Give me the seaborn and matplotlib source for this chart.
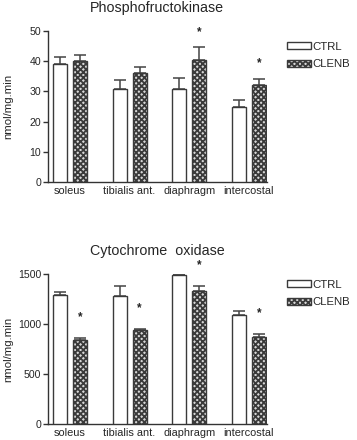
import matplotlib
matplotlib.use("Agg")
import matplotlib.pyplot as plt
import seaborn as sns
import pandas as pd
import numpy as np
from matplotlib.patches import Patch

muscles = ["soleus", "tibialis ant.", "diaphragm", "intercostal"]
groups = ["CTRL", "CLENB"]

pfk_ctrl = [39.0, 30.8, 30.8, 24.9]
pfk_ctrl_err = [41.5, 33.8, 34.3, 27.1]
pfk_clenb = [39.9, 36.0, 40.3, 32.1]
pfk_clenb_err = [41.9, 37.9, 44.7, 34.2]
pfk_sig = [False, False, True, True]

cox_ctrl = [1293, 1282, 1487, 1090]
cox_ctrl_err = [1317, 1380, 1493, 1132]
cox_clenb = [835, 938, 1328, 868]
cox_clenb_err = [858, 948, 1377, 898]
cox_sig = [True, True, True, True]

sns.set_theme(style="ticks")
plt.rcParams['font.family'] = ['Liberation Sans', 'DejaVu Sans']
plt.rcParams['hatch.linewidth'] = 1.3
plt.rcParams['hatch.color'] = '#2e2e2e'

fig = plt.figure(figsize=(3.57, 4.40), dpi=100)
ax1 = fig.add_axes([0.1345, 0.5864, 0.613, 0.3434])
ax2 = fig.add_axes([0.1345, 0.0364, 0.613, 0.3409])

EDGE = '#3a3a3a'
HFACE = '#d8d8d8'


def draw(ax, ctrl, ctrl_err, clenb, clenb_err, sig, ymax, yticks, star_off, title, leg_y):
    df = pd.DataFrame({
        "muscle": muscles * 2,
        "group": ["CTRL"] * 4 + ["CLENB"] * 4,
        "value": list(ctrl) + list(clenb),
    })
    sns.barplot(data=df, x="muscle", y="value", hue="group", order=muscles,
                hue_order=groups, palette=["white", HFACE], width=0.667,
                gap=0.3, errorbar=None, edgecolor=EDGE, linewidth=1.0,
                legend=False, ax=ax)
    bars = ax.patches[:8]
    tops = list(ctrl_err) + list(clenb_err)
    vals = list(ctrl) + list(clenb)
    for i, b in enumerate(bars):
        b.set_zorder(3)
        if i >= 4:
            b.set_hatch('xxxxxx')
        xc = b.get_x() + b.get_width() / 2
        ax.errorbar([xc], [vals[i]], yerr=[[0], [tops[i] - vals[i]]],
                    fmt='none', ecolor='#444444', elinewidth=1.1,
                    capsize=4.5, capthick=1.1, zorder=2, clip_on=False)
        if i >= 4 and sig[i - 4]:
            ax.text(xc, tops[i] + star_off, "*", ha='center', va='center',
                    fontsize=8.5, fontweight='bold', color='#222222', clip_on=False)
    ax.set_xlim(-0.367, 3.3)
    ax.set_ylim(0, ymax)
    ax.set_yticks(yticks)
    ax.set_xlabel("")
    ax.set_ylabel("nmol/mg.min", fontsize=8.2)
    ax.yaxis.set_label_coords(-0.158, 0.5)
    ax.set_title(title, fontsize=10.3, pad=13.5)
    sns.despine(ax=ax)
    for s in ["left", "bottom"]:
        ax.spines[s].set_linewidth(1.0)
        ax.spines[s].set_color('#333333')
    ax.tick_params(axis='y', length=3.5, width=1.0, labelsize=7.6, pad=1.5, color='#333333')
    ax.tick_params(axis='x', length=0, labelsize=7.9, pad=3)
    handles = [Patch(facecolor='white', edgecolor=EDGE, linewidth=1.0, label="CTRL"),
               Patch(facecolor=HFACE, edgecolor=EDGE, linewidth=1.0, hatch='xxxxxx', label="CLENB")]
    fig.legend(handles=handles, loc='upper left', bbox_to_anchor=(0.803, leg_y),
               bbox_transform=fig.transFigure,
               frameon=False, fontsize=8.2, handlelength=2.1, handleheight=0.55,
               handletextpad=0.15, labelspacing=0.7, borderaxespad=0, borderpad=0)


draw(ax1, pfk_ctrl, pfk_ctrl_err, pfk_clenb, pfk_clenb_err, pfk_sig, 50,
     [0, 10, 20, 30, 40, 50], 5.0, "Phosphofructokinase", 1 - 41.5 / 440)
draw(ax2, cox_ctrl, cox_ctrl_err, cox_clenb, cox_clenb_err, cox_sig, 1500,
     [0, 500, 1000, 1500], 210, "Cytochrome  oxidase", 1 - 279.5 / 440)

fig.savefig("out.png", dpi=100)
